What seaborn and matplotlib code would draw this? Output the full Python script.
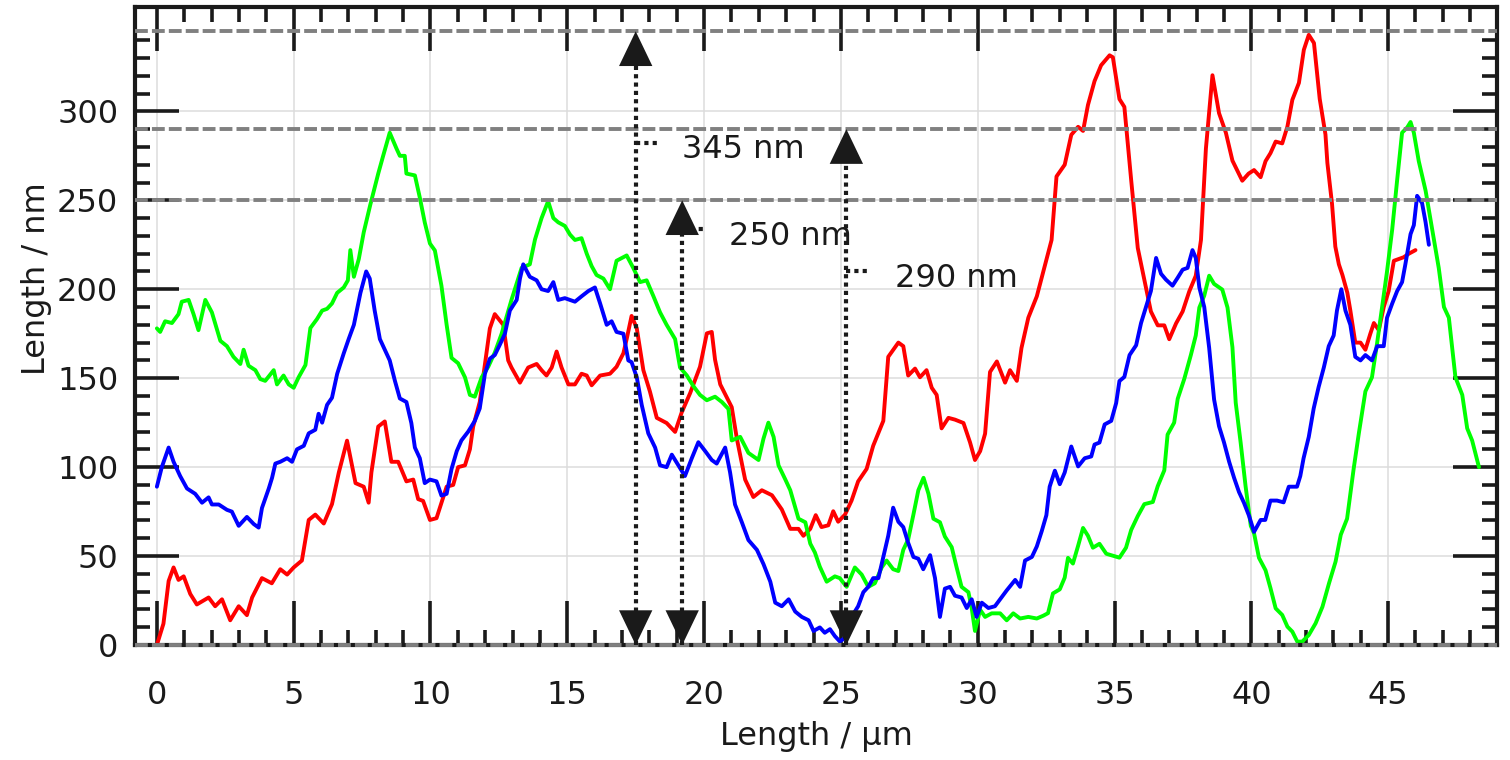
import pandas as pd
import matplotlib
matplotlib.use("Agg")
import matplotlib.pyplot as plt
from matplotlib.ticker import FixedLocator, MultipleLocator
import seaborn as sns

# height profiles (x in µm, height in nm)
red_x = [0, 0.24, 0.43, 0.61, 0.79, 0.98, 1.22, 1.46, 1.89, 2.13, 2.38, 2.68, 2.99, 3.29, 3.48,
         3.84, 4.2, 4.51, 4.76, 5.0, 5.3, 5.55, 5.79, 6.1, 6.4, 6.65, 6.95, 7.26, 7.56, 7.74,
         7.84, 8.09, 8.33, 8.57, 8.82, 9.12, 9.37, 9.55, 9.73, 9.98, 10.22, 10.4, 10.59, 10.83,
         11.01, 11.26, 11.44, 11.56, 11.8, 11.99, 12.17, 12.35, 12.66, 12.84, 12.96, 13.27,
         13.57, 13.88, 14.06, 14.24, 14.43, 14.61, 14.79, 15.04, 15.28, 15.52, 15.71, 15.89,
         16.2, 16.56, 16.8, 17.05, 17.17, 17.35, 17.54, 17.78, 18.02, 18.27, 18.63, 18.94,
         19.18, 19.49, 19.85, 20.1, 20.28, 20.4, 20.59, 21.01, 21.2, 21.5, 21.8, 22.11, 22.48,
         22.84, 23.15, 23.45, 23.63, 23.88, 24.08, 24.29, 24.54, 24.72, 24.9, 25.15, 25.39,
         25.63, 25.94, 26.18, 26.55, 26.73, 27.1, 27.28, 27.46, 27.71, 27.89, 28.13, 28.32,
         28.5, 28.68, 28.93, 29.17, 29.48, 29.72, 29.9, 30.09, 30.27, 30.45, 30.7, 31.0, 31.18,
         31.43, 31.6, 31.85, 32.16, 32.4, 32.51, 32.7, 32.88, 33.18, 33.42, 33.67, 33.85,
         34.03, 34.27, 34.51, 34.82, 34.94, 35.18, 35.36, 35.61, 35.85, 36.09, 36.33, 36.58,
         36.82, 37.0, 37.25, 37.49, 37.73, 37.97, 38.16, 38.34, 38.58, 38.82, 39.07, 39.31,
         39.67, 39.9, 40.1, 40.34, 40.52, 40.7, 40.89, 41.13, 41.32, 41.5, 41.74, 41.92, 42.1,
         42.29, 42.5, 42.71, 42.78, 42.95, 43.07, 43.2, 43.33, 43.51, 43.62, 43.8, 43.99,
         44.17, 44.35, 44.48, 44.66, 44.84, 45.02, 45.21, 45.39, 45.57, 45.76, 46.0]
red_y = [0, 12, 36, 43.6, 36.6, 38.6, 28.7, 22.8, 26.7, 21.8, 25.7, 13.9, 21.8, 16.8, 26.7,
         37.6, 34.7, 42.6, 39.6, 43.6, 47.5, 70.3, 73.3, 68.3, 79.2, 97, 114.9, 91, 89, 80,
         97, 122.8, 125.7, 103, 103, 92, 93, 82, 81, 70.3, 71.3, 80, 89, 90,
         100, 101, 110, 122.8, 136.6, 158, 178, 186, 180, 160, 156, 147.5,
         156, 158, 154.5, 151.5, 156, 165, 156, 146.5, 146.5, 152.5, 151.5, 146,
         151.5, 152.5, 156.4, 164, 172, 185, 178, 154.5, 142.5, 127.7, 124.8, 119.8,
         130.7, 141.6, 156.4, 175.2, 176, 160.4, 146.5, 133.7, 115.8, 93, 83.2, 87, 84.2,
         76.2, 65.3, 65.3, 61.4, 65.3, 73, 66.3, 67.3, 75.2, 69.3, 73.3, 81.2,
         92, 99, 112, 126, 162, 170, 168, 151.5, 155.4, 150.5, 154.5, 144.6,
         140.6, 121.8, 127.7, 126.7, 124.8, 113.9, 104, 109, 118.8, 153.5, 159.4, 147.5, 154.5,
         148.5, 167, 184, 196, 210, 216.5, 227.7, 263.4, 270, 286.8, 291.3, 289,
         303.6, 317, 325.9, 331.5, 330.4, 306.9, 302.5, 261.2, 223.2, 205.4, 187.5, 179.7,
         179.7, 171.9, 180.8, 187.5, 198.7, 207.6, 227.7, 279, 320.3, 299, 288, 272.3,
         261, 265, 267, 263, 272, 276.5, 283, 282, 291.5, 306.5, 316, 334.6, 343,
         338.4, 307, 287, 271, 248, 224, 214, 208, 198, 188, 170, 170,
         166, 175, 181, 177, 190, 199, 216, 217, 218, 220, 222]

green_x = [0, 0.12, 0.3, 0.55, 0.79, 0.91, 1.16, 1.34, 1.52, 1.77, 2.01, 2.32, 2.56, 2.8, 3.05,
           3.17, 3.35, 3.6, 3.78, 3.96, 4.27, 4.39, 4.63, 4.82, 5.0, 5.18, 5.43, 5.61, 5.85,
           6.04, 6.22, 6.4, 6.59, 6.83, 6.98, 7.07, 7.2, 7.38, 7.56, 7.8, 8.09, 8.27, 8.51,
           8.76, 8.88, 9.06, 9.12, 9.43, 9.61, 9.79, 9.98, 10.16, 10.4, 10.59, 10.77, 11.01,
           11.26, 11.44, 11.62, 11.87, 12.11, 12.35, 12.6, 12.96, 13.33, 13.63, 13.82, 14.06,
           14.3, 14.49, 14.67, 14.91, 15.1, 15.28, 15.52, 15.71, 15.89, 16.07, 16.32, 16.56,
           16.8, 17.17, 17.41, 17.66, 17.9, 18.15, 18.39, 18.63, 18.94, 19.12, 19.37, 19.61,
           19.85, 20.1, 20.4, 20.65, 20.89, 21.01, 21.32, 21.62, 21.99, 22.17, 22.35, 22.54,
           22.72, 22.97, 23.15, 23.45, 23.7, 23.88, 24.05, 24.23, 24.48, 24.78, 24.96, 25.21,
           25.51, 25.76, 26.0, 26.24, 26.49, 26.67, 26.91, 27.1, 27.28, 27.46, 27.65, 27.83,
           28.02, 28.2, 28.38, 28.62, 28.8, 29.05, 29.23, 29.41, 29.66, 29.78, 29.9, 30.09,
           30.27, 30.51, 30.82, 31.06, 31.3, 31.55, 31.85, 32.16, 32.4, 32.57, 32.75, 33.0,
           33.18, 33.3, 33.48, 33.67, 33.85, 34.03, 34.21, 34.45, 34.7, 34.94, 35.18, 35.42,
           35.61, 35.85, 36.09, 36.4, 36.58, 36.82, 36.94, 37.18, 37.31, 37.55, 37.79, 37.97,
           38.1, 38.28, 38.46, 38.64, 38.94, 39.13, 39.31, 39.43, 39.61, 39.79, 39.98, 40.1,
           40.28, 40.52, 40.7, 40.89, 41.13, 41.32, 41.5, 41.68, 41.86, 42.1, 42.35, 42.6,
           42.84, 43.08, 43.27, 43.5, 43.74, 43.93, 44.17, 44.41, 44.6, 44.78, 44.96, 45.15,
           45.33, 45.51, 45.7, 45.82, 45.94, 46.12, 46.37, 46.61, 46.85, 47.04, 47.22, 47.46,
           47.71, 47.89, 48.07, 48.32]
green_y = [178, 176, 182, 181, 186, 193, 194, 186, 177, 194, 187, 171, 168, 162, 158,
           166, 157, 154.5, 149.5, 148.5, 154.5, 146.5, 151.5, 146.5, 144.6, 150.5, 157.4, 178.2, 183.2,
           188, 189, 192, 198, 201, 205, 222, 207, 217, 232, 247.5, 265, 275, 288,
           279, 275, 275, 265, 264, 251.5, 237.6, 225.7, 221.8, 202, 180, 161.4, 158.4,
           150.5, 140.6, 139.6, 150.5, 156.4, 164.4, 175, 194, 212, 214, 228, 240,
           249.5, 240, 237.6, 235.6, 230.7, 227.7, 228.7, 220, 213, 208, 206, 200,
           216, 219, 212, 204, 205, 196, 187, 180, 172, 156, 151.5, 145.5,
           140.6, 137.6, 139.6, 136.6, 132.7, 115, 117, 108, 104, 116, 125, 117,
           101, 93, 87, 71, 69, 57, 52, 44, 35.6, 38.6, 37.6, 32.7,
           43.6, 39.6, 32.7, 34.7, 43.6, 47.5, 42.6, 41.6, 53.5, 59.4, 73.3, 87,
           94, 85, 71, 69, 61, 55, 43.6, 32.7, 29.7, 20.8, 7.9, 19.8,
           15.8, 17.8, 17.8, 13.9, 17.8, 14.9, 15.8, 14.9, 16.5, 17.9, 29, 31.3,
           37.9, 49, 45.8, 55.8, 65.8, 61.4, 54.7, 56.9, 51.3, 50.2, 49.1, 54.7,
           64.7, 72.5, 79.2, 80.4, 89.3, 98.2, 118.3, 125, 138.4, 149.6, 163, 174,
           189.7, 196.4, 207.6, 203, 199.8, 189.7, 167.4, 136.2, 113.8, 89.3, 67, 62.8,
           49, 42, 32, 20.6, 16.9, 10.3, 7.5, 1.9, 1.9, 5.6, 12.2, 21.5,
           34.7, 46.9, 62, 71, 99, 119, 142.6, 150.5, 170, 190, 210, 233.7,
           261.4, 288, 291, 294, 288, 272, 255.4, 233.7, 212, 190, 184, 150.5,
           140.6, 121.8, 115, 100]

blue_x = [0, 0.18, 0.43, 0.61, 0.85, 1.1, 1.4, 1.65, 1.89, 2.01, 2.26, 2.56, 2.74, 2.99, 3.29,
          3.54, 3.72, 3.84, 4.09, 4.21, 4.33, 4.51, 4.76, 4.94, 5.12, 5.37, 5.55, 5.79, 5.91,
          6.04, 6.22, 6.4, 6.59, 6.83, 7.01, 7.2, 7.44, 7.65, 7.78, 7.96, 8.15, 8.33, 8.51,
          8.7, 8.88, 9.12, 9.3, 9.43, 9.61, 9.79, 9.98, 10.22, 10.4, 10.59, 10.77, 10.96,
          11.13, 11.38, 11.62, 11.8, 11.99, 12.17, 12.35, 12.54, 12.72, 12.9, 13.15, 13.27,
          13.39, 13.63, 13.88, 14.06, 14.3, 14.49, 14.67, 14.91, 15.28, 15.52, 15.77, 16.01,
          16.2, 16.44, 16.62, 16.8, 17.05, 17.23, 17.35, 17.54, 17.72, 17.96, 18.21, 18.39,
          18.63, 18.82, 19.06, 19.3, 19.55, 19.79, 20.04, 20.28, 20.46, 20.77, 20.95, 21.13,
          21.38, 21.62, 21.93, 22.17, 22.42, 22.6, 22.84, 23.09, 23.33, 23.57, 23.82, 24.0,
          24.23, 24.41, 24.6, 24.78, 24.96, 25.15, 25.39, 25.63, 25.82, 26.0, 26.18, 26.37,
          26.55, 26.73, 26.91, 27.1, 27.28, 27.46, 27.65, 27.83, 28.01, 28.26, 28.44, 28.62,
          28.8, 28.99, 29.17, 29.41, 29.6, 29.78, 29.96, 30.15, 30.39, 30.63, 30.82, 31.06,
          31.37, 31.55, 31.73, 31.98, 32.16, 32.34, 32.51, 32.63, 32.82, 33.0, 33.18, 33.42,
          33.67, 33.91, 34.15, 34.27, 34.45, 34.64, 34.88, 35.06, 35.18, 35.36, 35.55, 35.79,
          35.97, 36.15, 36.33, 36.52, 36.7, 36.88, 37.12, 37.31, 37.49, 37.67, 37.85, 37.97,
          38.1, 38.28, 38.46, 38.64, 38.82, 39.0, 39.19, 39.37, 39.55, 39.73, 39.92, 40.1,
          40.34, 40.51, 40.7, 40.94, 41.18, 41.37, 41.67, 41.79, 41.91, 42.1, 42.28, 42.46,
          42.65, 42.83, 43.01, 43.13, 43.29, 43.44, 43.62, 43.8, 43.99, 44.17, 44.41, 44.6,
          44.84, 44.96, 45.15, 45.33, 45.51, 45.63, 45.82, 45.94, 46.06, 46.24, 46.37, 46.49]
blue_y = [89, 100, 111, 103, 95, 88, 85, 80, 83, 79, 79, 76, 75, 67, 72,
          68, 66, 77, 88, 94, 102, 103, 105, 103, 110, 112, 119, 121, 130,
          125, 135, 139, 152.5, 164, 172, 180, 198, 210, 206, 188, 172, 166, 160,
          148.5, 138.6, 136.6, 124.8, 111, 105, 91, 93, 92, 84, 85, 99, 109,
          115, 120, 126, 133, 152.5, 161, 163, 169, 175, 188, 194, 206,
          214, 207, 205, 200, 199, 204, 194, 195, 193, 196, 199, 201,
          192, 180, 182, 176, 175, 160, 159, 150.5, 135, 119, 111, 101,
          100, 107, 101, 95, 105, 114, 109, 104, 102, 111, 97, 79,
          69, 59, 53.5, 45.5, 35.6, 23.8, 21.8, 25.7, 18.8, 15.8, 13.9, 7.9,
          9.9, 6.9, 8.9, 5, 2, 4, 15.8, 21.8, 29.7, 32.7, 37.6, 37.6,
          49.5, 61.4, 77.2, 69.3, 66.3, 57.4, 49.5, 48.5, 42.6, 50.5, 37.6, 15.8,
          31.7, 32.7, 27.7, 26.7, 20.8, 25.7, 15.8, 23.8, 20.8, 21.8, 25.7, 30.7,
          36.6, 32.7, 47.5, 49.5, 55.4, 64, 73, 89, 98, 90.4, 97, 111.6,
          100.4, 105, 106, 112.7, 113.8, 124, 126, 136, 148.4, 150.7, 163, 168.5,
          181, 190, 199, 217.6, 208.7, 205.4, 202, 206.5, 211, 212, 222, 217.6,
          201, 190, 167, 138, 123, 114, 103, 94, 86, 80, 72.5, 63.6,
          70.3, 70.3, 81.2, 81.2, 80.2, 89, 89, 95, 105, 117, 133, 145,
          156, 168, 174, 188, 200, 188, 180, 162, 160, 163, 160, 168,
          168, 184, 192, 199, 204, 214, 231, 236, 252.5, 248.5, 237.6, 225]

profile_names = ["red", "green", "blue"]
profile_colors = ["#ff0000", "#00ff00", "#0000ff"]

# reference levels and marked heights
ref_levels = [0, 250, 290, 345]
arrow_x = [17.5, 19.2, 25.2]
arrow_top = [345, 250, 290]
label_text = ["345 nm", "250 nm", "290 nm"]

frames = []
for name, xs, ys in zip(profile_names, [red_x, green_x, blue_x], [red_y, green_y, blue_y]):
    frames.append(pd.DataFrame({"x": xs, "y": ys, "profile": name}))
df = pd.concat(frames, ignore_index=True)

sns.set_theme(style="ticks")
plt.rcParams["font.family"] = ["DejaVu Sans"]
plt.rcParams["text.color"] = "k"

fig, ax = plt.subplots(figsize=(15.1, 7.6), dpi=100)
fig.subplots_adjust(left=0.0894, right=0.9914, bottom=0.1513, top=0.9904)

ax.set_axisbelow(True)
ax.grid(True, which="major", color="#dcdcdc", lw=1.1)

sns.lineplot(data=df, x="x", y="y", hue="profile", palette=dict(zip(profile_names, profile_colors)),
             estimator=None, sort=False, lw=2.8, legend=False, ax=ax, zorder=2)

for lvl in ref_levels:
    ax.axhline(lvl, color="#808080", lw=2.8, ls=(0, (3.3, 1.05)), zorder=3, clip_on=False)

# double arrows with dotted shafts
for xa, top in zip(arrow_x, arrow_top):
    ax.plot([xa, xa], [0, top - 5], color="k", lw=3.0, ls=(0, (1, 1)), zorder=4)
    ax.annotate("", xy=(xa, top), xytext=(xa, 0),
                arrowprops=dict(arrowstyle="<|-|>,head_length=2.5,head_width=1.2",
                                mutation_scale=10, lw=0, color="k", shrinkA=0, shrinkB=0),
                zorder=5, annotation_clip=False)

# labels with short dotted leaders
leaders = [((17.5, 18.3), 282), ((19.2, 20.0), 234), ((25.2, 26.0), 210.5)]
label_pos = [(19.2, 274), (20.92, 225), (26.96, 201.5)]
for (x01, yl), (tx, ty), txt in zip(leaders, label_pos, label_text):
    ax.plot(x01, [yl, yl], color="k", lw=3.0, ls=(0, (1, 1)), zorder=4)
    ax.text(tx, ty, txt, fontsize=23, color="k", ha="left", va="baseline", zorder=6)

ax.set_xlim(-0.8, 48.98)
ax.set_ylim(0, 358.5)
ax.xaxis.set_major_locator(MultipleLocator(5))
ax.xaxis.set_minor_locator(MultipleLocator(1))
ax.yaxis.set_major_locator(FixedLocator(range(0, 301, 50)))
ax.yaxis.set_minor_locator(FixedLocator(range(10, 341, 10)))

ax.tick_params(which="both", direction="in", top=True, right=True, width=2.6, color="k")
ax.tick_params(which="major", length=31.5)
ax.tick_params(which="minor", length=11)
ax.tick_params(axis="x", which="major", pad=25, labelsize=23, labelcolor="k")
ax.tick_params(axis="y", which="major", pad=12, labelsize=23, labelcolor="k")
for s in ax.spines.values():
    s.set_linewidth(3)
    s.set_color("k")

ax.set_xlabel("Length / µm", fontsize=23, color="k")
ax.set_ylabel("Length / nm", fontsize=23, color="k")
ax.xaxis.set_label_coords(0.5, -0.119)
ax.yaxis.set_label_coords(-0.061, 0.575)

fig.savefig("out.png", dpi=100)
